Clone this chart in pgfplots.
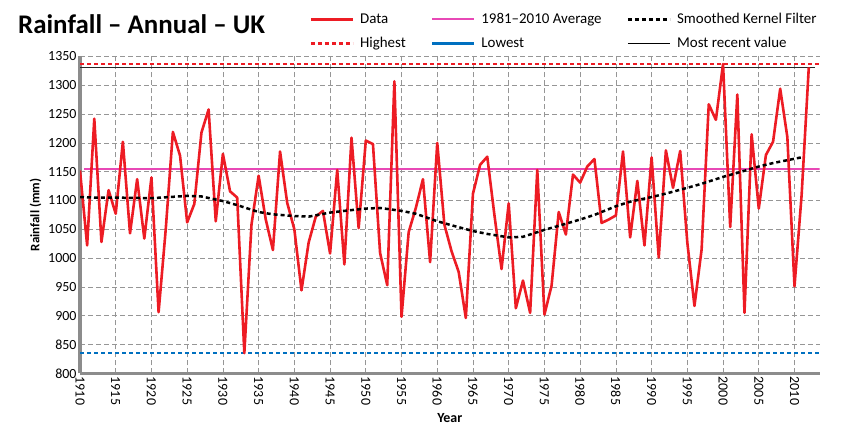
\documentclass[border=0pt]{standalone}
\usepackage{fontspec}
\setmainfont{Carlito}
\usepackage{pgfplots}
\usepackage{pgfplotstable}
\pgfplotsset{compat=1.18}
\definecolor{datared}{RGB}{237,28,36}
\definecolor{avgpink}{RGB}{232,72,182}
\definecolor{lowblue}{RGB}{0,112,192}
\definecolor{gridgray}{RGB}{150,150,150}
\definecolor{axisgray}{RGB}{140,140,140}
\pgfplotsset{legend image code/.code={\draw[#1] (0bp,0bp) -- (42bp,0bp);}}

\pgfplotstableread{
year value
1910 1152
1911 1022
1912 1242
1913 1028
1914 1118
1915 1077
1916 1202
1917 1043
1918 1137
1919 1034
1920 1140
1921 906
1922 1050
1923 1219
1924 1178
1925 1062
1926 1094
1927 1218
1928 1258
1929 1064
1930 1181
1931 1116
1932 1105
1933 835
1934 1058
1935 1143
1936 1067
1937 1014
1938 1185
1939 1096
1940 1050
1941 944
1942 1027
1943 1072
1944 1082
1945 1008
1946 1153
1947 989
1948 1209
1949 1052
1950 1204
1951 1198
1952 1009
1953 953
1954 1307
1955 898
1956 1045
1957 1087
1958 1137
1959 993
1960 1200
1961 1058
1962 1012
1963 976
1964 896
1965 1112
1966 1162
1967 1176
1968 1075
1969 981
1970 1095
1971 913
1972 961
1973 905
1974 1153
1975 902
1976 952
1977 1080
1978 1041
1979 1145
1980 1131
1981 1159
1982 1172
1983 1061
1984 1067
1985 1074
1986 1185
1987 1036
1988 1134
1989 1022
1990 1175
1991 1001
1992 1187
1993 1122
1994 1186
1995 1027
1996 917
1997 1015
1998 1267
1999 1240
2000 1337
2001 1054
2002 1284
2003 905
2004 1215
2005 1086
2006 1179
2007 1202
2008 1294
2009 1210
2010 951
2011 1110
2012 1331
}\rainfall

\pgfplotstableread{
year value
1910 1106
1912 1105
1915 1105
1920 1104
1925 1108
1927 1107
1930 1099
1932 1092
1935 1080
1937 1076
1940 1073
1942 1072
1945 1079
1947 1082
1950 1086
1952 1087
1955 1082
1957 1077
1960 1064
1962 1057
1965 1047
1967 1042
1970 1036
1972 1037
1975 1049
1977 1056
1980 1067
1982 1075
1985 1090
1987 1098
1990 1106
1992 1112
1995 1122
1997 1129
2000 1141
2002 1148
2005 1159
2007 1165
2011 1175
}\smoothed

\begin{document}
\begin{tikzpicture}
\useasboundingbox (0bp,0bp) rectangle (842bp,430bp);
\node[anchor=base west, font=\bfseries\fontsize{27}{32}\selectfont, inner sep=0pt] at (18bp,396bp) {Rainfall – Annual – UK};
\begin{axis}[
  at={(80bp,56.7bp)}, anchor=south west,
  scale only axis, width=739.5bp, height=316.8bp,
  xmin=1910, xmax=2013.5, ymin=800, ymax=1350,
  xtick={1910,1915,...,2010},
  ytick={800,850,...,1350},
  /pgf/number format/assume math mode=true,
  /pgf/number format/1000 sep={},
  axis x line*=bottom, axis y line*=left,
  axis line style={-, axisgray, line width=3bp},
  major tick length=0pt,
  grid=major,
  major grid style={gridgray, line width=0.7bp, dash pattern=on 5bp off 3bp},
  tick label style={font=\fontsize{14}{16}\selectfont},
  x tick label style={rotate=-90, anchor=west},
  ylabel={Rainfall (mm)},
  ylabel style={font=\bfseries\fontsize{13}{15}\selectfont},
  xlabel={Year},
  xlabel style={font=\bfseries\fontsize{14}{16}\selectfont, yshift=-2bp},
  legend columns=3,
  legend cell align=left,
  legend style={at={(0.306,1.149)}, anchor=north west, draw=none, fill=none,
    font=\fontsize{15}{17}\selectfont,
    /tikz/every odd column/.append style={column sep=4bp},
    /tikz/every even column/.append style={column sep=23bp},
    row sep=8bp},
]
\addlegendimage{datared, line width=2.6bp}
\addlegendentry{Data}
\addlegendimage{draw=avgpink, line width=2bp}
\addlegendentry{1981–2010 Average}
\addlegendimage{black, line width=2.5bp, dash pattern=on 4bp off 3bp}
\addlegendentry{Smoothed Kernel Filter}
\addlegendimage{datared, line width=2.5bp, dash pattern=on 4bp off 3bp}
\addlegendentry{Highest}
\addlegendimage{lowblue, line width=2.6bp}
\addlegendentry{Lowest}
\addlegendimage{black, line width=1.2bp}
\addlegendentry{Most recent value}

\addplot[forget plot, avgpink, line width=1.8bp] coordinates {(1910.6,1154) (2013.5,1154)};
\addplot[forget plot, datared, line width=2.5bp, dash pattern=on 4bp off 3bp] coordinates {(1910,1337) (2013.5,1337)};
\addplot[forget plot, lowblue, line width=2.5bp, dash pattern=on 4bp off 3bp] coordinates {(1910,835) (2013.5,835)};
\addplot[forget plot, black!85, line width=1.2bp] coordinates {(1910,1331) (2012.8,1331)};
\addplot[forget plot, datared, line width=2.6bp, line join=round] table[x=year, y=value] {\rainfall};
\addplot[forget plot, black, line width=2.5bp, dash pattern=on 4bp off 3bp] table[x=year, y=value] {\smoothed};
\end{axis}
\end{tikzpicture}
\end{document}
